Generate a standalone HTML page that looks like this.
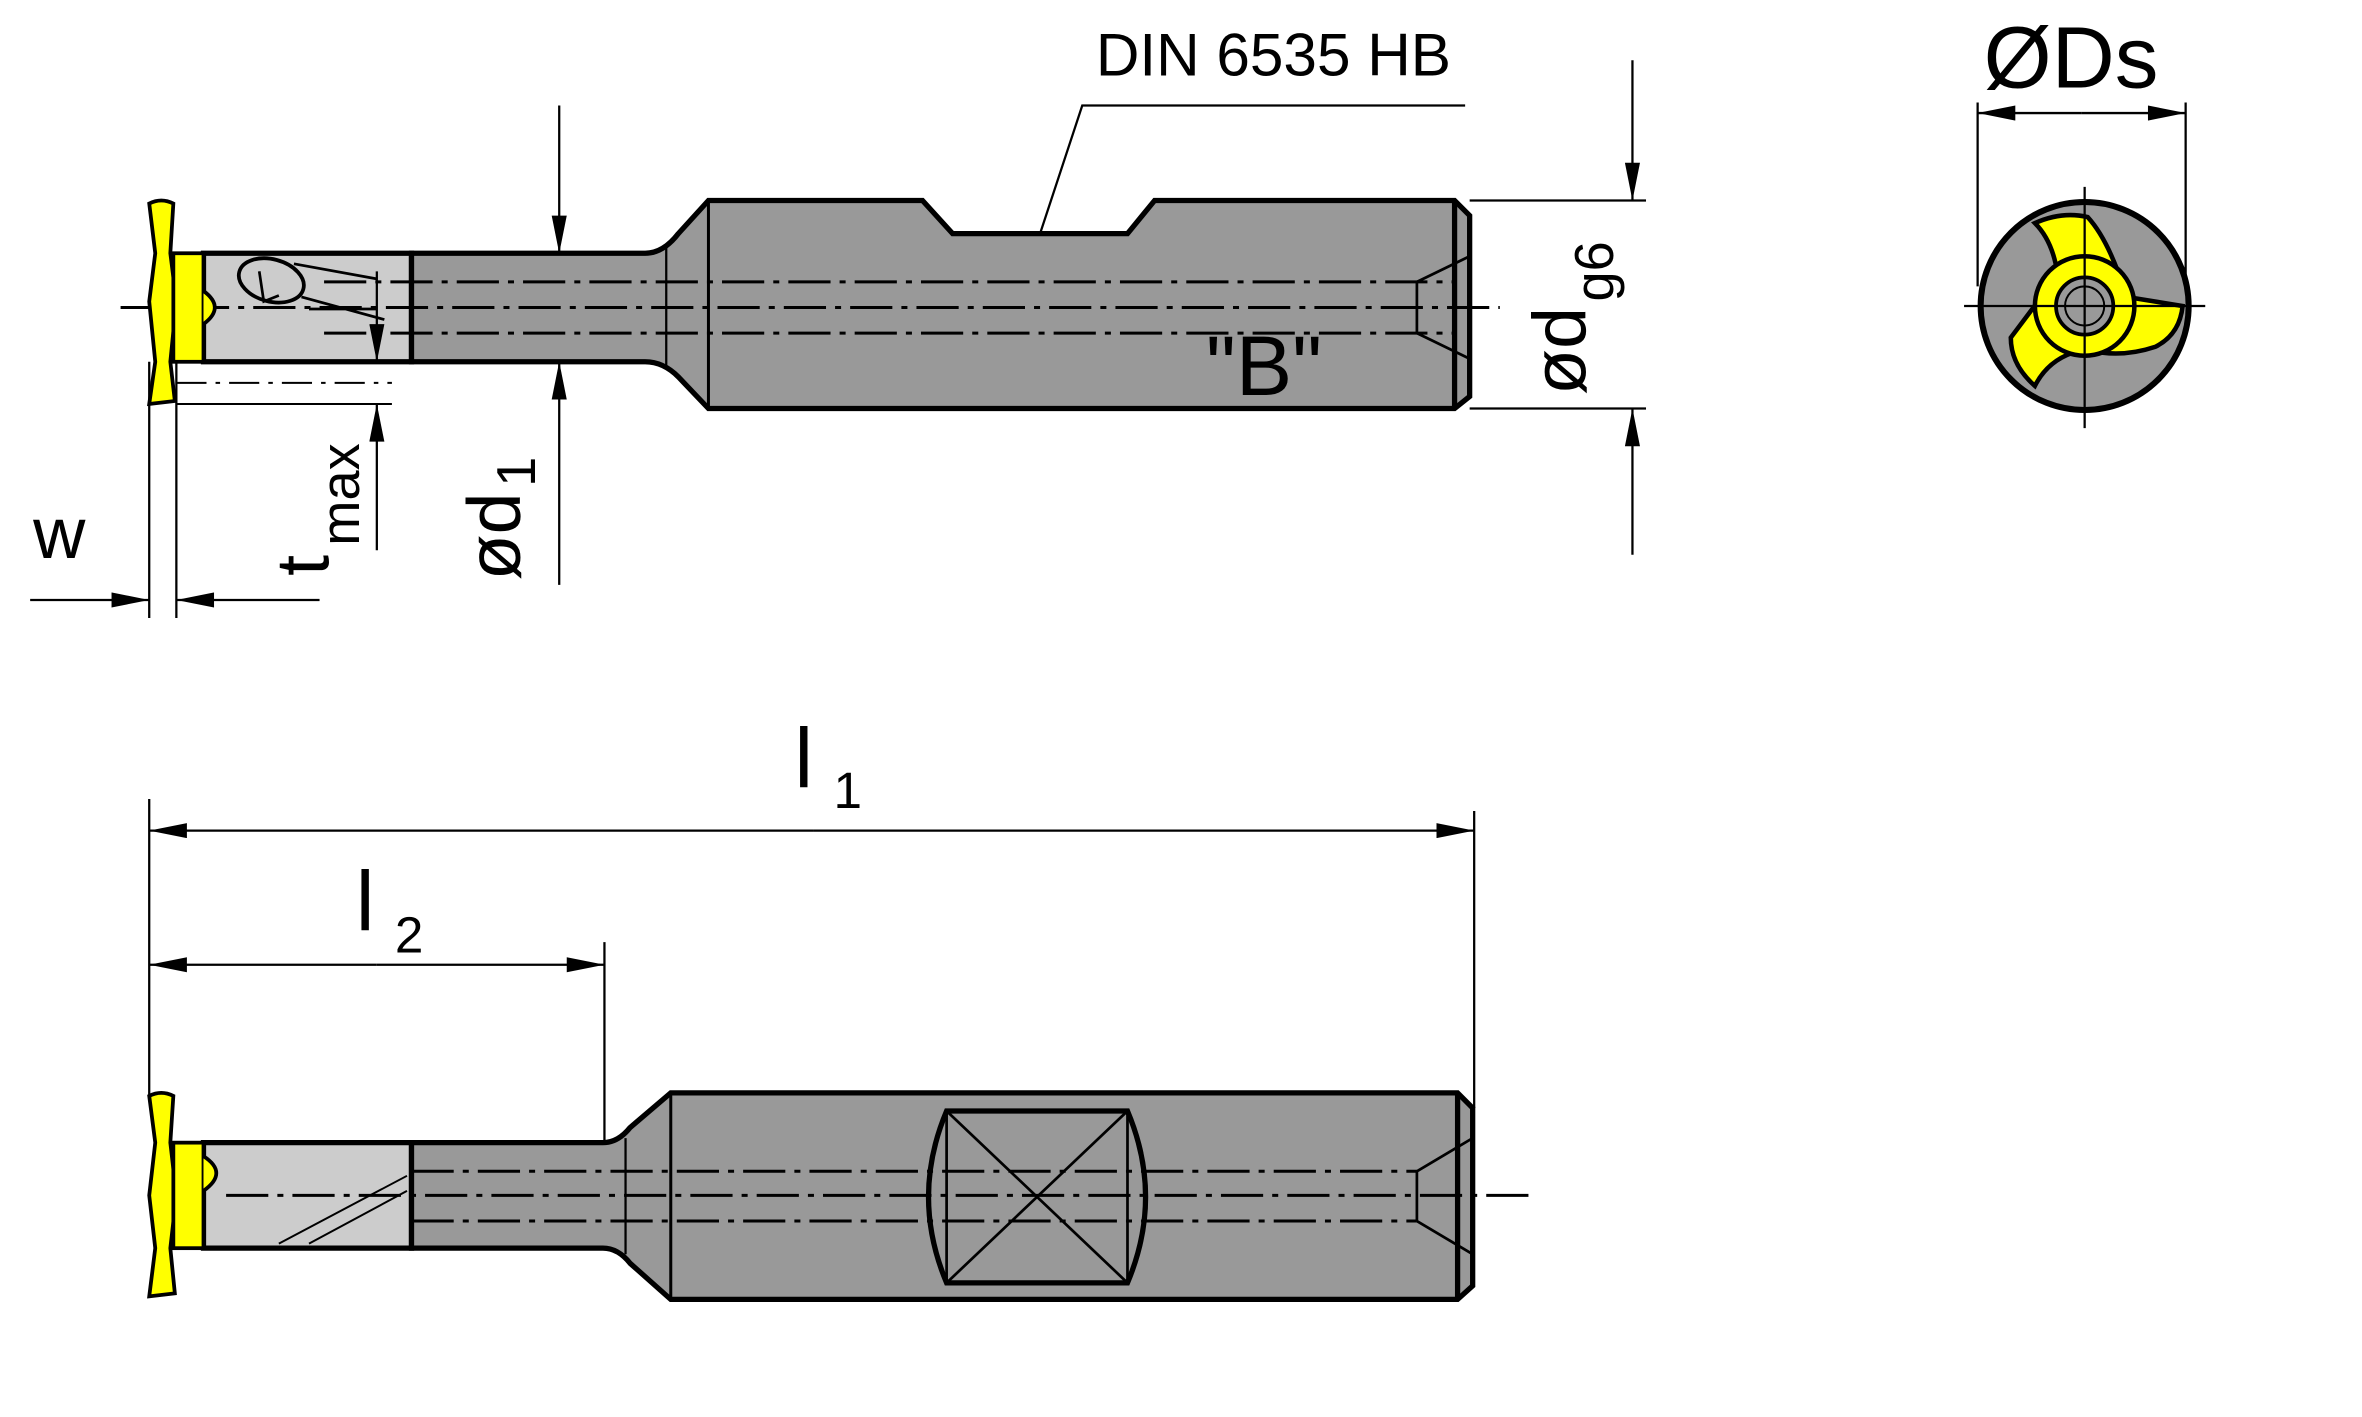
<!DOCTYPE html>
<html><head><meta charset="utf-8"><style>
html,body{margin:0;padding:0;background:#fff;}
svg{display:block;}
text{font-family:"Liberation Sans",sans-serif;fill:#000;}
</style></head><body>
<svg width="2362" height="1417" viewBox="0 0 1567 940" preserveAspectRatio="none" xmlns="http://www.w3.org/2000/svg">
<defs>
<marker id="a" viewBox="0 0 10 4" refX="10" refY="2" markerWidth="46" markerHeight="10" markerUnits="userSpaceOnUse" orient="auto"><path d="M0,0 L10,2 L0,4z" fill="#000"/></marker>
</defs>
<g stroke="#000" fill="none">
<!-- TOP TOOL -->
<path d="M135,168 H273 V240 H135z" fill="#cccccc" stroke-width="3.5"/>
<path d="M273,168 H428 Q440,168 450,155 L470,133 H612 L632,155 H748 L766,133 H965 L975,143 V263 L965,271 H470 L450,250 Q440,240 428,240 H273z" fill="#999" stroke-width="3.5"/>
<line x1="965" y1="133" x2="965" y2="271" stroke-width="3.5"/>
<line x1="470" y1="133" x2="470" y2="271" stroke-width="2"/>
<line x1="442" y1="163" x2="442" y2="245" stroke-width="1.5"/>
<g stroke-width="2" stroke-dasharray="28,6,4,6">
<line x1="215" y1="187" x2="965" y2="187"/><line x1="215" y1="221" x2="965" y2="221"/>
<line x1="80" y1="204" x2="995" y2="204"/>
</g>
<path d="M940,187 L975,170 M940,221 L975,238 M940,187 V221" stroke-width="1.8"/>
<ellipse cx="180" cy="186" rx="22" ry="14" transform="rotate(15 180 186)" stroke-width="2.5"/>
<path d="M172,180 L175,200 L185,196 M195,175 L250,185 M200,197 L255,212 M205,205 L250,205" stroke-width="1.8"/>
<path d="M99,135 Q107,131 115,135 L113,168 L117,200 L113,240 L116,266 L99,268 L103,240 L99,200 L103,168z" fill="#ffff00" stroke-width="2.5"/>
<rect x="115" y="168" width="20" height="72" fill="#ffff00" stroke-width="2.5"/>
<path d="M135,193 Q150,204 135,215" fill="#ffff00" stroke-width="2.5"/>
<line x1="117" y1="254" x2="260" y2="254" stroke-width="1.3" stroke-dasharray="20,6,3,6"/>
<line x1="117" y1="268" x2="260" y2="268" stroke-width="1.3"/>
<path d="M972,70 H718 L690,155" stroke-width="1.5"/>
<line x1="371" y1="70" x2="371" y2="168" stroke-width="1.5" marker-end="url(#a)"/>
<line x1="371" y1="388" x2="371" y2="240" stroke-width="1.5" marker-end="url(#a)"/>
<line x1="975" y1="133" x2="1092" y2="133" stroke-width="1.5"/>
<line x1="975" y1="271" x2="1092" y2="271" stroke-width="1.5"/>
<line x1="1083" y1="40" x2="1083" y2="133" stroke-width="1.5" marker-end="url(#a)"/>
<line x1="1083" y1="368" x2="1083" y2="271" stroke-width="1.5" marker-end="url(#a)"/>
<line x1="250" y1="180" x2="250" y2="240" stroke-width="1.5" marker-end="url(#a)"/>
<line x1="250" y1="365" x2="250" y2="268" stroke-width="1.5" marker-end="url(#a)"/>
<line x1="99" y1="240" x2="99" y2="410" stroke-width="1.5"/>
<line x1="117" y1="240" x2="117" y2="410" stroke-width="1.5"/>
<line x1="20" y1="398" x2="99" y2="398" stroke-width="1.5" marker-end="url(#a)"/>
<line x1="212" y1="398" x2="117" y2="398" stroke-width="1.5" marker-end="url(#a)"/>
<!-- END VIEW -->
<circle cx="1383" cy="203" r="69" fill="#999" stroke-width="4"/>
<path d="M1350,148 Q1368,140 1385,144 Q1396,156 1405,180 L1365,182 Q1362,160 1350,148z" fill="#ffff00" stroke-width="3"/>
<path d="M1405,196 L1448,203 Q1446,222 1430,230 Q1412,236 1395,234z" fill="#ffff00" stroke-width="3"/>
<path d="M1352,200 L1370,205 L1375,234 Q1358,240 1350,256 Q1334,242 1334,224z" fill="#ffff00" stroke-width="3"/>
<circle cx="1383" cy="203" r="33" fill="#ffff00" stroke-width="3"/>
<circle cx="1383" cy="203" r="19" fill="#999" stroke-width="2.5"/>
<circle cx="1383" cy="203" r="13" stroke-width="1.3"/>
<line x1="1303" y1="203" x2="1463" y2="203" stroke-width="1.5"/>
<line x1="1383" y1="124" x2="1383" y2="284" stroke-width="1.5"/>
<line x1="1312" y1="68" x2="1312" y2="190" stroke-width="1.5"/>
<line x1="1450" y1="68" x2="1450" y2="190" stroke-width="1.5"/>
<line x1="1381" y1="75" x2="1312" y2="75" stroke-width="1.5" marker-end="url(#a)"/>
<line x1="1381" y1="75" x2="1450" y2="75" stroke-width="1.5" marker-end="url(#a)"/>
<!-- BOTTOM TOOL -->
<path d="M135,758 H273 V828 H135z" fill="#cccccc" stroke-width="3.5"/>
<path d="M273,758 H400 Q410,758 418,748 L445,725 H967 L977,735 V853 L967,862 H445 L418,838 Q410,828 400,828 H273z" fill="#999" stroke-width="3.5"/>
<line x1="967" y1="725" x2="967" y2="862" stroke-width="3.5"/>
<line x1="445" y1="725" x2="445" y2="862" stroke-width="2"/>
<line x1="415" y1="755" x2="415" y2="832" stroke-width="1.5"/>
<path d="M628,737 H748 Q772,794 748,851 H628 Q604,794 628,737z" stroke-width="3.5"/>
<path d="M628,737 V851 M748,737 V851 M628,737 L748,851 M748,737 L628,851" stroke-width="1.8"/>
<path d="M185,825 L270,780 M205,825 L270,790" stroke-width="1.3"/>
<g stroke-width="2" stroke-dasharray="28,6,4,6">
<line x1="273" y1="777" x2="940" y2="777"/><line x1="273" y1="810" x2="940" y2="810"/>
<line x1="150" y1="793" x2="1018" y2="793"/>
</g>
<path d="M940,777 L977,755 M940,810 L977,832 M940,777 V810" stroke-width="1.8"/>
<path d="M99,727 Q107,723 115,727 L113,758 L117,793 L113,828 L116,858 L99,860 L103,828 L99,793 L103,758z" fill="#ffff00" stroke-width="2.5"/>
<rect x="115" y="758" width="20" height="70" fill="#ffff00" stroke-width="2.5"/>
<path d="M135,767 Q152,778 135,790" fill="#ffff00" stroke-width="2.5"/>
<line x1="99" y1="530" x2="99" y2="727" stroke-width="1.5"/>
<line x1="978" y1="538" x2="978" y2="735" stroke-width="1.5"/>
<line x1="401" y1="625" x2="401" y2="758" stroke-width="1.5"/>
<line x1="540" y1="551" x2="99" y2="551" stroke-width="1.5" marker-end="url(#a)"/>
<line x1="540" y1="551" x2="978" y2="551" stroke-width="1.5" marker-end="url(#a)"/>
<line x1="250" y1="640" x2="99" y2="640" stroke-width="1.5" marker-end="url(#a)"/>
<line x1="250" y1="640" x2="401" y2="640" stroke-width="1.5" marker-end="url(#a)"/>
</g>
<text x="727" y="50" font-size="40">DIN 6535 HB</text>
<text x="800" y="262" font-size="56">"B"</text>
<text x="1316" y="58" font-size="58">ØDs</text>
<text x="22" y="370" font-size="48">w</text>
<text x="527" y="522" font-size="56">l</text><text x="553" y="536" font-size="34">1</text>
<text x="236" y="617" font-size="56">l</text><text x="262" y="632" font-size="34">2</text>
<g transform="translate(218,382) rotate(-90)"><text font-size="50">t</text><text x="20" y="20" font-size="36">max</text></g>
<g transform="translate(345,385) rotate(-90)"><text font-size="50">ød</text><text x="62" y="10" font-size="36">1</text></g>
<g transform="translate(1052,262) rotate(-90)"><text font-size="50">ød</text><text x="62" y="18" font-size="36">g6</text></g>
</svg>
</body></html>
